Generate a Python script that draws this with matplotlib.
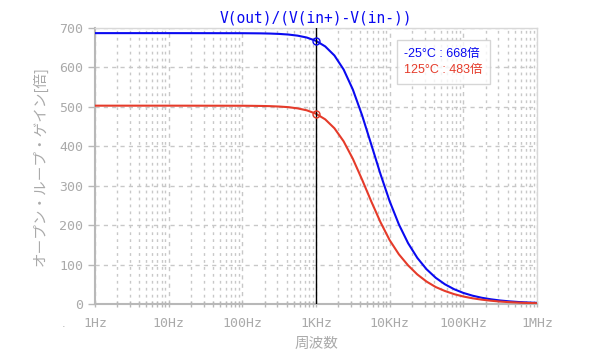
import matplotlib
matplotlib.use("Agg")
import matplotlib.pyplot as plt
from matplotlib.lines import Line2D

# 周波数 [Hz] と各温度でのオープンループゲイン [倍]
freq = [1, 10, 100, 133.4, 177.8, 237.1, 316.2, 421.7, 562.3, 749.9,
        1000, 1333.5, 1778.3, 2371.4, 3162.3, 4217, 5623.4, 7498.9,
        10000, 13335, 17783, 23714, 31623, 42170, 56234, 74989,
        100000, 133352, 177828, 237137, 316228, 421697, 562341, 749894, 1000000]
gain_m25 = [687, 687, 686.8, 686.6, 686.4, 685.9, 685.0, 683.4, 680.6, 675.8,
            667.4, 653.3, 630.3, 594.7, 544.0, 478.9, 404.7, 329.6,
            260.6, 201.9, 154.3, 117.0, 88.3, 66.5, 50.0, 37.5,
            28.1, 21.1, 15.8, 11.9, 8.9, 6.7, 5.0, 3.8, 2.8]
gain_125 = [503, 503, 502.8, 502.6, 502.3, 501.8, 500.8, 499.2, 496.2, 491.2,
            482.6, 468.3, 445.7, 412.6, 368.3, 315.7, 260.3, 207.7,
            161.9, 126.0, 98.0, 75.0, 57.0, 43.0, 33.0, 25.0,
            19.0, 14.5, 11.0, 8.3, 6.2, 4.7, 3.5, 2.6, 2.0]

xticks = [1, 10, 100, 1000, 10000, 100000, 1000000]
xlabels = ["1Hz", "10Hz", "100Hz", "1KHz", "10KHz", "100KHz", "1MHz"]
yticks = [0, 100, 200, 300, 400, 500, 600, 700]

f_mark = 1000
g_mark = [668, 483]
legend_txt = ["-25°C : 668倍", "125°C : 483倍"]

blue = "#0a0af0"
red = "#e53b2a"
gray = "#aaaaaa"
jp = ["Noto Sans CJK JP", "DejaVu Sans"]

fig = plt.figure(figsize=(6, 3.6), dpi=100)
ax = fig.add_axes([95/600, 1-304/360, 442/600, 276/360])

ax.plot(freq, gain_m25, color=blue, lw=1.5, zorder=3)
ax.plot(freq, gain_125, color=red, lw=1.5, zorder=3)
ax.axvline(f_mark, color="black", lw=1.0, zorder=4)
ax.plot([f_mark], [g_mark[0]], "o", mfc="none", mec=blue, ms=5, mew=1, zorder=5)
ax.plot([f_mark], [g_mark[1]], "o", mfc="none", mec=red, ms=5, mew=1, zorder=5)

ax.set_xscale("log")
ax.set_xlim(1, 1000000)
ax.set_ylim(0, 700)
ax.set_xticks(xticks)
ax.set_xticklabels(xlabels)
ax.set_yticks(yticks)

ax.grid(True, which="major", color="#c8c8c8", ls=(0, (3, 3)), lw=1)
ax.grid(True, which="minor", axis="x", color="#c8c8c8", ls=(0, (2, 3)), lw=1)

for s in ["left", "bottom"]:
    ax.spines[s].set_color("#b8b8b8")
    ax.spines[s].set_linewidth(1.5)
for s in ["top", "right"]:
    ax.spines[s].set_color("#d8d8d8")
    ax.spines[s].set_linewidth(1.0)

ax.tick_params(axis="both", which="major", colors="#b8b8b8", labelcolor=gray,
               length=5, width=1, labelsize=9.5)
ax.tick_params(axis="x", which="both", direction="inout", pad=7)
ax.tick_params(axis="x", which="minor", colors="#b8b8b8", length=5, width=1)
for lab in ax.get_xticklabels() + ax.get_yticklabels():
    lab.set_family("DejaVu Sans Mono")

ax.set_xlabel("周波数", family=jp, color=gray, fontsize=10.5, labelpad=5)
ax.set_ylabel("オープン・ループ・ゲイン[倍]", family=jp, color=gray, fontsize=10.5, labelpad=8)
ax.set_title("V(out)/(V(in+)-V(in-))", family="DejaVu Sans Mono", color=blue,
             fontsize=10.5, pad=4)

handles = [Line2D([], [], lw=0), Line2D([], [], lw=0)]
leg = ax.legend(handles, legend_txt, loc="upper left", bbox_to_anchor=(0.668, 0.978),
                handlelength=0, handletextpad=0, frameon=True, fancybox=False,
                prop={"family": ["Liberation Sans", "Noto Sans CJK JP"], "size": 9},
                borderpad=0.6, labelspacing=0.35)
leg.get_frame().set_edgecolor("#cccccc")
leg.get_frame().set_linewidth(1)
leg.get_texts()[0].set_color(blue)
leg.get_texts()[1].set_color(red)

fig.text(62/600, 1-327/360, ".", color=gray, fontsize=8)

fig.savefig("out.png", dpi=100)
